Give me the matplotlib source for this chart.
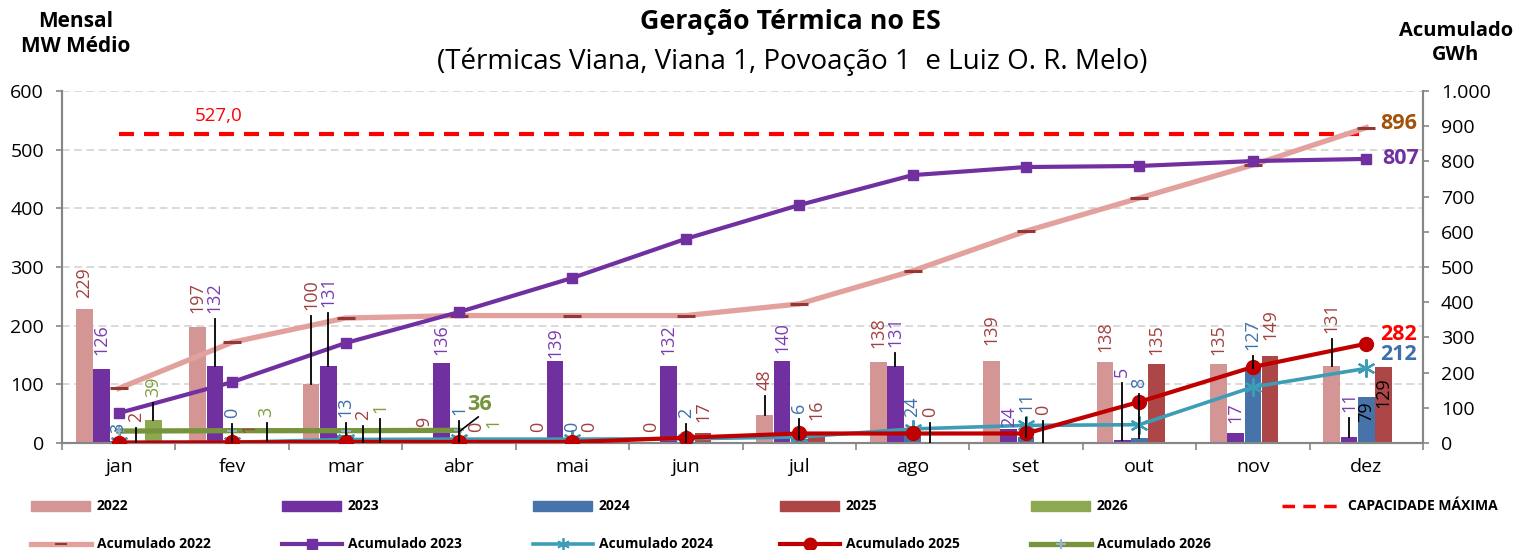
import matplotlib
matplotlib.use('Agg')
import matplotlib.pyplot as plt
from matplotlib.lines import Line2D
from matplotlib.patches import Rectangle
from matplotlib.ticker import FuncFormatter

plt.rcParams['font.family'] = ['Open Sans', 'DejaVu Sans']

# ---------------- data ----------------
months = ['jan', 'fev', 'mar', 'abr', 'mai', 'jun', 'jul', 'ago', 'set', 'out', 'nov', 'dez']
years = ['2022', '2023', '2024', '2025', '2026']

mw_2022 = [229, 197, 100, 9, 0, 0, 48, 138, 139, 138, 135, 131]
mw_2023 = [126, 132, 131, 136, 139, 132, 140, 131, 24, 5, 17, 11]
mw_2024 = [3, 0, 13, 1, 0, 2, 6, 24, 11, 8, 127, 79]
mw_2025 = [2, 1, 2, 0, 0, 17, 16, 0, 0, 135, 149, 129]
mw_2026 = [39, 3, 1, 1]

acum_2022 = [155, 286, 355, 362, 362, 362, 395, 489, 602, 696, 790, 896]
acum_2023 = [85, 173, 284, 372, 469, 580, 676, 761, 784, 787, 801, 807]
acum_2024 = [2, 2, 10, 11, 11, 12, 17, 40, 50, 52, 159, 212]
acum_2025 = [1, 2, 3, 3, 3, 15, 27, 27, 27, 117, 216, 282]
acum_2026 = [34, 35, 35, 36]

capacidade = 527.0

# ---------------- label layout (positions of the rotated data labels, left-axis units) ----------------
lab_2022 = [247, 222, 227, 27, 19, 19, 90, 162, 167, 155, 150, 187]
lab_2023 = [150, 222, 232, 150, 145, 150, 153, 164, 27, 112, 34, 53]
lab_2024 = [17, 43, 44, 48, 19, 43, 51, 44, 53, 94, 158, 36]
lab_2025 = [36, 17, 39, 19, 19, 36, 39, 44, 48, 150, 176, 60]
lab_2026 = [78, 44, 51, 26]
leader_2022 = [2, 6, 11]
leader_2023 = [1, 2, 7, 9, 11]
leader_2024 = [1, 2, 3, 5, 6, 8, 9, 10]
leader_2025 = [0, 2, 7, 8]
leader_2026 = [0, 1, 2]
black_2024 = [11]
black_2025 = [11]

# ---------------- styles ----------------
bar_colors = ['#D49694', '#7030A0', '#4673AA', '#AD4747', '#8CA851']
lab_colors = ['#A0413F', '#7A3DB0', '#3F6FAA', '#A0413F', '#7F9F3F']
W = 1516
H = 550

fig = plt.figure(figsize=(W / 100, H / 100), dpi=100)
ax = fig.add_axes([62 / W, 107 / H, 1361 / W, 352 / H])
ax2 = ax.twinx()

n = len(months)
x = list(range(n))
bw = 0.152
series = [mw_2022, mw_2023, mw_2024, mw_2025, mw_2026]
labpos = [lab_2022, lab_2023, lab_2024, lab_2025, lab_2026]
leaders = [leader_2022, leader_2023, leader_2024, leader_2025, leader_2026]
blacks = [[], [], black_2024, black_2025, []]

for k, vals in enumerate(series):
    xs = [i + (k - 2) * bw for i in range(len(vals))]
    ax.bar(xs, vals, width=bw * 0.97, color=bar_colors[k], zorder=2, linewidth=0)

# capacity line
cap_dash = (0, (3.6, 2.4))
ax.plot([0, n - 1], [capacidade, capacidade], color='#FF0000', lw=3.0,
        linestyle=cap_dash, zorder=3)
ax.text(0.88, 557, f'{capacidade:.1f}'.replace('.', ','), color='#FF0000',
        fontsize=13.5, ha='center', va='center')

# accumulated lines (right axis)
ax2.plot(x, acum_2022, color='#E3A19E', lw=3.8, marker='_', ms=13, mew=2.2,
         mec='#953735', zorder=4)
ax2.plot(x, acum_2023, color='#7030A0', lw=3.0, marker='s', ms=6.5, zorder=5)
ax2.plot(x, acum_2024, color='#3E9DB6', lw=2.6, marker=(6, 2, 0), ms=13, mew=1.6,
         mec='#3E9DB6', zorder=5)
ax2.plot(x, acum_2025, color='#C00000', lw=3.0, marker='o', ms=10, zorder=6)
ax2.plot(x[:len(acum_2026)], acum_2026, color='#77933C', lw=3.8, marker='+', ms=7,
         mew=1.5, mec='#95B3D7', zorder=5)

# end labels
end_fs = 15.5
ax2.text(n - 1 + 0.12, acum_2022[-1] + 13, str(acum_2022[-1]), color='#A0520A',
         fontsize=end_fs, fontweight='bold', ha='left', va='center', zorder=8)
ax2.text(n - 1 + 0.14, acum_2023[-1] + 0, str(acum_2023[-1]), color='#7030A0',
         fontsize=end_fs, fontweight='bold', ha='left', va='center', zorder=8)
ax2.text(n - 1 + 0.12, acum_2025[-1] + 25, str(acum_2025[-1]), color='#FF0000',
         fontsize=end_fs, fontweight='bold', ha='left', va='center', zorder=8)
ax2.text(n - 1 + 0.12, acum_2024[-1] + 38, str(acum_2024[-1]), color='#3F6FAA',
         fontsize=end_fs, fontweight='bold', ha='left', va='center', zorder=8)
i26 = len(acum_2026) - 1
ax2.text(i26 + 0.07, acum_2026[-1] + 72, str(acum_2026[-1]), color='#77933C',
         fontsize=end_fs, fontweight='bold', ha='left', va='center', zorder=8)
ax2.plot([i26, i26 + 0.17], [acum_2026[-1] - 4, acum_2026[-1] + 38], color='black',
         lw=1.2, zorder=8)

# data labels for bars
for k, vals in enumerate(series):
    for i, v in enumerate(vals):
        xb = i + (k - 2) * bw
        col = 'black' if i in blacks[k] else lab_colors[k]
        ax2.text(xb, labpos[k][i], str(v), rotation=90, ha='center', va='bottom',
                 color=col, fontsize=13, transform=ax.transData, zorder=9)
        if i in leaders[k]:
            ax2.plot([xb, xb], [labpos[k][i] - 10, v], color='black', lw=1.3,
                     transform=ax.transData, zorder=9)

# axes styling
ax.set_xlim(-0.5, n - 0.5)
ax.set_ylim(0, 600)
ax2.set_ylim(0, 1000)
ax.set_yticks(range(0, 601, 100))
ax2.set_yticks(range(0, 1001, 100))
ax2.yaxis.set_major_formatter(FuncFormatter(lambda v, p: f'{int(v):,}'.replace(',', '.')))
ax.yaxis.grid(True, color='#D0D0D0', linestyle=(0, (5, 3)), lw=1.1)
ax.set_axisbelow(True)
ax.set_xticks(x)
ax.set_xticklabels(months)
ax.set_xticks([i + 0.5 for i in range(-1, n)], minor=True)
ax.tick_params(axis='x', which='major', length=0, pad=11, labelsize=14)
ax.tick_params(axis='x', which='minor', length=5, width=1.2, color='#868686')
ax.tick_params(axis='y', length=4, width=1.2, color='#868686', labelsize=14, pad=9)
ax2.tick_params(axis='y', length=4, width=1.2, color='#868686', labelsize=14, pad=9)
for a in (ax, ax2):
    a.spines['top'].set_visible(False)
    for s in ('left', 'right', 'bottom'):
        a.spines[s].set_color('#868686')
        a.spines[s].set_linewidth(1.5)

# titles
fig.text(790 / W, 1 - 22 / H, 'Geração Térmica no ES', ha='center', va='center',
         fontsize=19.3, fontweight='bold')
fig.text(792 / W, 1 - 62 / H, '(Térmicas Viana, Viana 1, Povoação 1  e Luiz O. R. Melo)',
         ha='center', va='center', fontsize=20)
fig.text(76 / W, 1 - 34 / H, 'Mensal\nMW Médio', ha='center', va='center',
         fontsize=15, fontweight='bold', linespacing=1.3)
fig.text(1456 / W, 1 - 43 / H, 'Acumulado\nGWh', ha='center', va='center',
         fontsize=14.5, fontweight='bold', linespacing=1.3)

# legend (manual)
def fx(px):
    return px / W

def fy(py):
    return 1 - py / H

col_x = [31, 282, 533, 780, 1031, 1282]
row1, row2 = 506, 544
for k in range(5):
    fig.patches.append(Rectangle((fx(col_x[k]), fy(row1 + 5)), 59 / W, 10 / H,
                                 transform=fig.transFigure, color=bar_colors[k]))
    fig.text(fx(col_x[k] + 66), fy(row1), years[k], fontsize=10, fontweight='bold',
             ha='left', va='center')
fig.lines.append(Line2D([fx(col_x[5]), fx(col_x[5] + 60)], [fy(row1), fy(row1)],
                        transform=fig.transFigure, color='#FF0000', lw=2.5,
                        linestyle=cap_dash))
fig.text(fx(col_x[5] + 66), fy(row1), 'CAPACIDADE MÁXIMA', fontsize=10, fontweight='bold',
         ha='left', va='center')

acc_styles = [
    dict(color='#E3A19E', lw=3.8, marker='_', ms=8, mew=1.5, mec='#953735'),
    dict(color='#7030A0', lw=3.0, marker='s', ms=6.5),
    dict(color='#3E9DB6', lw=2.6, marker=(6, 2, 0), ms=9, mew=1.3, mec='#3E9DB6'),
    dict(color='#C00000', lw=3.0, marker='o', ms=9),
    dict(color='#77933C', lw=3.8, marker='+', ms=7, mew=1.5, mec='#95B3D7'),
]
for k in range(5):
    st = acc_styles[k]
    fig.lines.append(Line2D([fx(col_x[k]), fx(col_x[k] + 30), fx(col_x[k] + 60)],
                            [fy(row2)] * 3, transform=fig.transFigure, markevery=[1], **st))
    fig.text(fx(col_x[k] + 66), fy(row2), 'Acumulado ' + years[k], fontsize=10,
             fontweight='bold', ha='left', va='center')

fig.savefig('out.png', dpi=100)
